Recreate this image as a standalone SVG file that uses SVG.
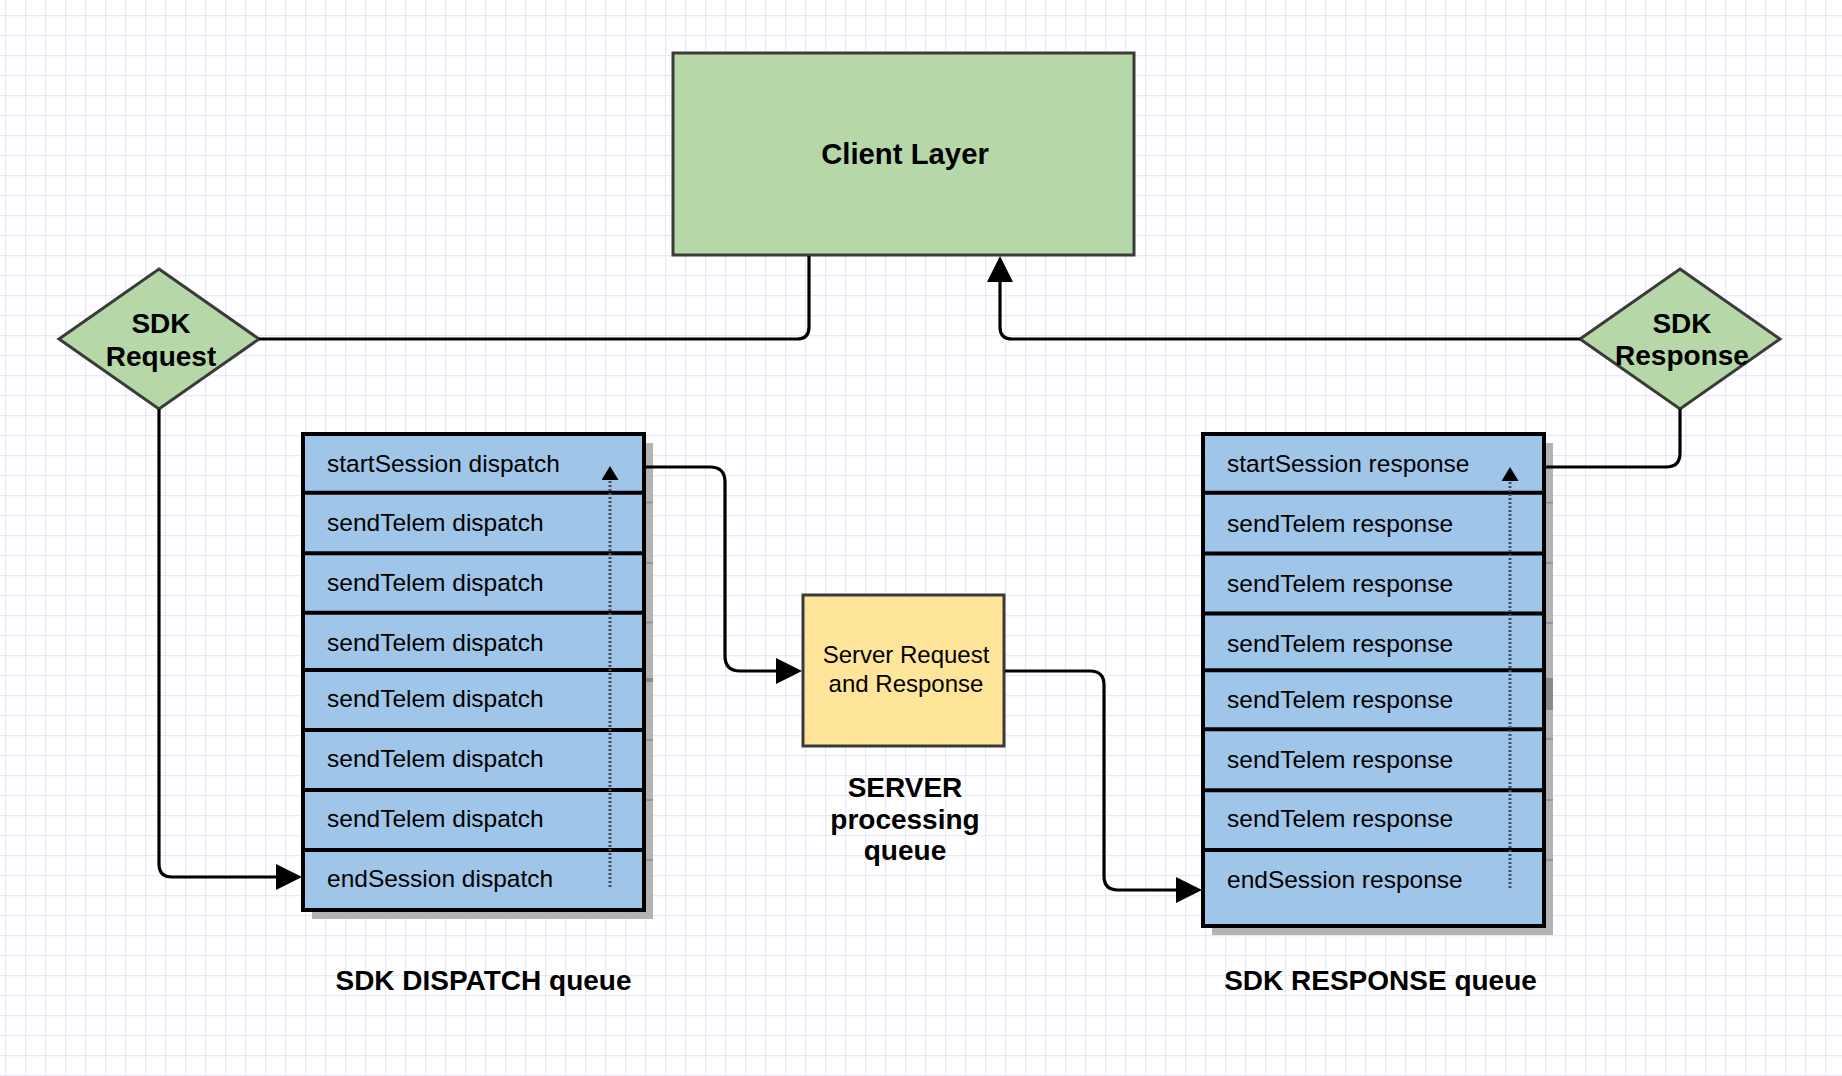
<svg xmlns="http://www.w3.org/2000/svg" width="1842" height="1076" viewBox="0 0 1842 1076">
<style>
  .t { font-family: "Liberation Sans", Arial, sans-serif; fill: #000; }
  .row { font-size: 24.5px; }
  .b { font-weight: bold; }
  .lbl { font-size: 28px; font-weight: bold; text-anchor: middle; }
  .conn { fill: none; stroke: #000; stroke-width: 3.2; stroke-linejoin: round; }
  .qbox { fill: #9fc5e8; stroke: #000; stroke-width: 4; }
  .div { stroke: #000; stroke-width: 4; }
  .shadow { fill: #b3b3b3; }
  .tick { stroke: #8a8a8a; stroke-width: 1.5; }
  .dots { fill: none; stroke: #46525f; stroke-width: 3; stroke-dasharray: 2 2; }
  .green { fill: #b6d7a8; stroke: #3a3a3a; stroke-width: 3; }
</style>
<defs>
  <pattern id="grid" x="5" y="15" width="20" height="20" patternUnits="userSpaceOnUse">
    <path d="M0 0.5 H20 M0.5 0 V20" stroke="#e8e8f8" stroke-width="1.3" fill="none"/>
  </pattern>
  <marker id="arr" viewBox="0 0 26 26" refX="0" refY="13" markerWidth="26" markerHeight="26" markerUnits="userSpaceOnUse" orient="auto">
    <path d="M0 0 L26 13 L0 26 Z" fill="#000"/>
  </marker>
  <marker id="arrs" viewBox="0 0 14 17" refX="0" refY="8.5" markerWidth="14" markerHeight="17" markerUnits="userSpaceOnUse" orient="auto">
    <path d="M0 0 L14 8.5 L0 17 Z" fill="#000"/>
  </marker>
</defs>

<rect x="0" y="0" width="1842" height="1076" fill="#ffffff"/>
<rect x="0" y="0" width="1842" height="1076" fill="url(#grid)"/>

<g id="client-layer">
  <rect class="green" x="673" y="53" width="461" height="202"/>
  <text class="t b" x="905" y="164" font-size="29.3" text-anchor="middle">Client Layer</text>
</g>

<g id="sdk-request">
  <polygon class="green" points="159,269 259,339 159,409 59,339"/>
  <text class="t b" x="161" y="333" font-size="28" text-anchor="middle">SDK</text>
  <text class="t b" x="161" y="366" font-size="28" text-anchor="middle">Request</text>
</g>

<g id="sdk-response">
  <polygon class="green" points="1680,269 1780,339 1680,409 1580,339"/>
  <text class="t b" x="1682" y="333" font-size="28" text-anchor="middle">SDK</text>
  <text class="t b" x="1682" y="365" font-size="28" text-anchor="middle">Response</text>
</g>

<g id="dispatch-queue">
  <rect class="shadow" x="312" y="443" width="341" height="476"/>
  <line class="tick" x1="645" y1="502.5" x2="653" y2="502.5"/>
  <line class="tick" x1="645" y1="563" x2="653" y2="563"/>
  <line class="tick" x1="645" y1="622.5" x2="653" y2="622.5"/>
  <line x1="645" y1="680" x2="653" y2="680" stroke="#888" stroke-width="4"/>
  <line class="tick" x1="645" y1="740" x2="653" y2="740"/>
  <line class="tick" x1="645" y1="800" x2="653" y2="800"/>
  <line class="tick" x1="645" y1="860" x2="653" y2="860"/>
  <rect class="qbox" x="303" y="434" width="341" height="476"/>
  <line class="div" x1="303" y1="492.7" x2="644" y2="492.7"/>
  <line class="div" x1="303" y1="553.3" x2="644" y2="553.3"/>
  <line class="div" x1="303" y1="612.7" x2="644" y2="612.7"/>
  <line class="div" x1="303" y1="670" x2="644" y2="670"/>
  <line class="div" x1="303" y1="730" x2="644" y2="730"/>
  <line class="div" x1="303" y1="790" x2="644" y2="790"/>
  <line class="div" x1="303" y1="850" x2="644" y2="850"/>
  <path class="dots" d="M610 887 V480" marker-end="url(#arrs)"/>
  <text class="t row" x="327" y="471.7">startSession dispatch</text>
  <text class="t row" x="327" y="531">sendTelem dispatch</text>
  <text class="t row" x="327" y="590.7">sendTelem dispatch</text>
  <text class="t row" x="327" y="650.7">sendTelem dispatch</text>
  <text class="t row" x="327" y="706.7">sendTelem dispatch</text>
  <text class="t row" x="327" y="767.3">sendTelem dispatch</text>
  <text class="t row" x="327" y="826.7">sendTelem dispatch</text>
  <text class="t row" x="327" y="886.7">endSession dispatch</text>
</g>

<g id="server">
  <rect x="803" y="595" width="201" height="151" fill="#ffe599" stroke="#3a3a3a" stroke-width="3"/>
  <text class="t" x="906" y="663" font-size="24" text-anchor="middle">Server Request</text>
  <text class="t" x="906" y="691.7" font-size="24" text-anchor="middle">and Response</text>
</g>

<g id="server-label">
  <text class="t lbl" x="905" y="797">SERVER</text>
  <text class="t lbl" x="905" y="829">processing</text>
  <text class="t lbl" x="905" y="860">queue</text>
</g>

<g id="response-queue">
  <rect class="shadow" x="1212" y="443" width="341" height="492"/>
  <line class="tick" x1="1545" y1="502.7" x2="1553" y2="502.7"/>
  <line class="tick" x1="1545" y1="563" x2="1553" y2="563"/>
  <line class="tick" x1="1545" y1="623" x2="1553" y2="623"/>
  <rect x="1545" y="678" width="8" height="32" fill="#8a8a8a"/>
  <line class="tick" x1="1545" y1="739" x2="1553" y2="739"/>
  <line class="tick" x1="1545" y1="800" x2="1553" y2="800"/>
  <line class="tick" x1="1545" y1="860" x2="1553" y2="860"/>
  <rect class="qbox" x="1203" y="434" width="341" height="492"/>
  <line class="div" x1="1203" y1="492.7" x2="1544" y2="492.7"/>
  <line class="div" x1="1203" y1="553.5" x2="1544" y2="553.5"/>
  <line class="div" x1="1203" y1="613.4" x2="1544" y2="613.4"/>
  <line class="div" x1="1203" y1="670.2" x2="1544" y2="670.2"/>
  <line class="div" x1="1203" y1="729.3" x2="1544" y2="729.3"/>
  <line class="div" x1="1203" y1="790.2" x2="1544" y2="790.2"/>
  <line class="div" x1="1203" y1="850" x2="1544" y2="850"/>
  <path class="dots" d="M1510 888 V481" marker-end="url(#arrs)"/>
  <text class="t row" x="1227" y="472.4">startSession response</text>
  <text class="t row" x="1227" y="531.6">sendTelem response</text>
  <text class="t row" x="1227" y="591.7">sendTelem response</text>
  <text class="t row" x="1227" y="651.9">sendTelem response</text>
  <text class="t row" x="1227" y="708.4">sendTelem response</text>
  <text class="t row" x="1227" y="767.5">sendTelem response</text>
  <text class="t row" x="1227" y="827.4">sendTelem response</text>
  <text class="t row" x="1227" y="888.2">endSession response</text>
</g>

<g id="dispatch-label">
  <text class="t lbl" x="483.5" y="990">SDK DISPATCH queue</text>
</g>
<g id="response-label">
  <text class="t lbl" x="1380.5" y="990">SDK RESPONSE queue</text>
</g>

<g id="connectors">
  <path class="conn" d="M259 339 H797 Q809 339 809 327 V256"/>
  <path class="conn" d="M1580 339 H1012 Q1000 339 1000 327 V282" marker-end="url(#arr)"/>
  <path class="conn" d="M1680 409 V453 Q1680 467 1666 467 H1546"/>
  <path class="conn" d="M159 409 V864 Q159 877 172 877 H276" marker-end="url(#arr)"/>
  <path class="conn" d="M646 467 H710 Q725 467 725 482 V656 Q725 671 740 671 H776" marker-end="url(#arr)"/>
  <path class="conn" d="M1005 671 H1090 Q1104 671 1104 685 V876 Q1104 890 1118 890 H1176" marker-end="url(#arr)"/>
</g>
</svg>
